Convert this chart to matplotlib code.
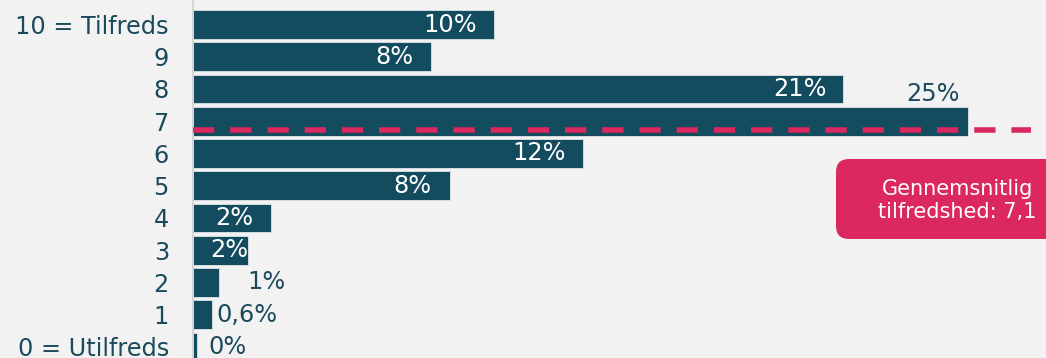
import matplotlib
matplotlib.use("Agg")
import matplotlib.pyplot as plt
from matplotlib.patches import FancyBboxPatch
from matplotlib.transforms import IdentityTransform

# ---------------- data ----------------
categories = ["10 = Tilfreds", "9", "8", "7", "6", "5", "4", "3", "2", "1", "0 = Utilfreds"]
values = [9.72, 7.66, 20.98, 25.0, 12.57, 8.28, 2.50, 1.78, 0.83, 0.59, 0.11]
value_labels = ["10%", "8%", "21%", "25%", "12%", "8%", "2%", "2%", "1%", "0,6%", "0%"]
mean_score = 7.1
mean_text = ["Gennemsnitlig", "tilfredshed: 7,1"]

# ---------------- style ----------------
BG = "#f2f2f2"
BAR = "#134b5f"
TXT = "#1b4a5d"
PINK = "#db285e"
W, H, DPI = 1046, 358, 100
FS = 17.3
plt.rcParams["font.family"] = ["DejaVu Sans"]
plt.rcParams["lines.scale_dashes"] = False

# label placement: (mode, x offset px, y offset px)
label_style = [("in", -17, 0), ("in", -17, 0), ("in", -17, 0), ("above", -8, 27),
               ("in", -17, 0), ("in", -18, 0), ("in", -17, 0), ("in", 0, 0),
               ("out", 28, 0), ("out", 5, 0), ("out", 12, 0)]
mean_line_pos = mean_score - 0.37  # vertical position of the average line in row units

fig = plt.figure(figsize=(W / DPI, H / DPI), dpi=DPI, facecolor=BG)
x0 = 193.3
scale = 30.98  # px per percent
ax = fig.add_axes([x0 / W, 0, 1 - x0 / W, 1], facecolor=BG)

n = len(categories)
pos = [n - 1 - i for i in range(n)]
pitch = 32.24
top_center = 24.5
ax.set_xlim(0, (W - x0) / scale)
ax.set_ylim((n - 1) - (H - top_center) / pitch, (n - 1) + top_center / pitch)

ax.barh(pos, values, height=0.89, color=BAR, edgecolor="#dfe5e8", linewidth=0.6, zorder=2)

for p, v, lab, (mode, dx, dy) in zip(pos, values, value_labels, label_style):
    if mode == "in":
        ax.annotate(lab, (v, p), xytext=(dx * 0.72, dy * 0.72), textcoords="offset points",
                    ha="right", va="center", color="white", fontsize=FS, zorder=4)
    elif mode == "above":
        ax.annotate(lab, (v, p), xytext=(dx * 0.72, dy * 0.72), textcoords="offset points",
                    ha="right", va="center", color=TXT, fontsize=FS, zorder=4)
    else:
        ax.annotate(lab, (v, p), xytext=(dx * 0.72, dy * 0.72), textcoords="offset points",
                    ha="left", va="center", color=TXT, fontsize=FS, zorder=4)

# average line
ax.plot([0, (1031 - x0) / scale], [mean_line_pos, mean_line_pos], color=PINK, lw=4,
        dashes=(21.3 * 0.72, 15.9 * 0.72), solid_capstyle="butt", dash_capstyle="butt", zorder=3,
        clip_on=False)

ax.set_yticks(pos, categories)
ax.tick_params(axis="y", length=0, pad=17.5, labelsize=FS, labelcolor=TXT)
ax.set_xticks([])
for s in ["top", "right", "bottom"]:
    ax.spines[s].set_visible(False)
ax.spines["left"].set_color("#d5d5d5")
ax.spines["left"].set_linewidth(1.5)
ax.spines["left"].set_zorder(1)

# annotation box (pixel coordinates, origin bottom-left)
box = FancyBboxPatch((836, H - 239), 260, 80, boxstyle="round,pad=0,rounding_size=13",
                     transform=IdentityTransform(), facecolor=PINK, edgecolor="none", zorder=5)
fig.patches.append(box)
fig.text(957.5 / W, 1 - 195 / H, mean_text[0], ha="center", va="baseline", color="white",
         fontsize=15, zorder=6)
fig.text(957.5 / W, 1 - 218 / H, mean_text[1], ha="center", va="baseline", color="white",
         fontsize=15, zorder=6)

fig.savefig("out.png", dpi=DPI, facecolor=BG)
